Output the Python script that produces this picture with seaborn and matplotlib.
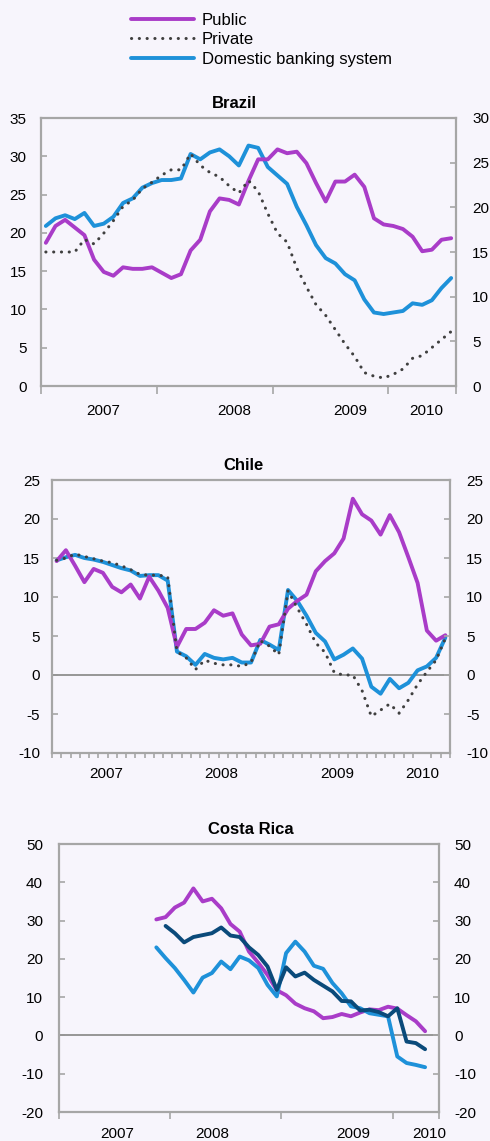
import matplotlib
matplotlib.use("Agg")
import matplotlib.pyplot as plt
import seaborn as sns
from matplotlib.lines import Line2D

# ---------------- data ----------------
years = ["2007", "2008", "2009", "2010"]
legend_labels = ["Public", "Private", "Domestic banking system"]

# Brazil (43 monthly observations)
brazil_public = [18.7, 20.9, 21.7, 20.7, 19.7, 16.5, 14.9, 14.4, 15.5, 15.3, 15.3, 15.5, 14.8, 14.1, 14.6,
                 17.7, 19.1, 22.8, 24.5, 24.3, 23.7, 26.8, 29.6, 29.6, 30.9, 30.4, 30.6, 29.1, 26.5, 24.1,
                 26.7, 26.7, 27.6, 26.0, 21.9, 21.1, 20.9, 20.5, 19.5, 17.6, 17.8, 19.1, 19.3]
brazil_domestic = [20.9, 21.9, 22.3, 21.8, 22.6, 20.9, 21.2, 22.1, 23.9, 24.5, 25.9, 26.5, 26.9, 26.9, 27.1,
                   30.3, 29.6, 30.5, 30.9, 30.0, 28.8, 31.4, 31.1, 28.6, 27.5, 26.4, 23.4, 21.0, 18.4, 16.7,
                   16.0, 14.6, 13.8, 11.3, 9.6, 9.4, 9.6, 9.8, 10.8, 10.6, 11.2, 12.8, 14.1]
# private sector is read on the right-hand axis (0-30)
brazil_private = [15.0, 15.0, 15.0, 15.0, 16.4, 15.9, 17.1, 18.5, 20.1, 20.8, 22.1, 22.8, 23.6, 24.2, 24.2,
                  26.0, 24.7, 23.9, 23.4, 22.4, 21.6, 23.0, 21.8, 19.3, 17.1, 16.1, 13.2, 11.1, 9.1, 7.9,
                  6.3, 4.7, 3.3, 1.5, 1.1, 0.9, 1.3, 1.9, 3.1, 3.4, 4.3, 5.2, 6.1]

# Chile (43 monthly observations)
chile_public = [14.6, 16.0, 14.0, 11.9, 13.6, 13.1, 11.3, 10.6, 11.6, 9.8, 12.6, 10.8, 8.6, 3.6, 5.9,
                5.9, 6.7, 8.3, 7.6, 7.9, 5.2, 3.8, 4.0, 6.2, 6.5, 8.5, 9.5, 10.3, 13.3, 14.6,
                15.6, 17.5, 22.6, 20.6, 19.8, 18.0, 20.5, 18.3, 15.1, 11.8, 5.7, 4.4, 5.1]
chile_domestic = [14.7, 15.1, 15.4, 15.0, 14.8, 14.5, 14.1, 13.7, 13.4, 12.7, 12.8, 12.8, 12.1, 3.0, 2.4,
                  1.3, 2.7, 2.2, 2.0, 2.2, 1.6, 1.6, 4.5, 3.9, 3.2, 10.9, 9.5, 7.6, 5.4, 4.3,
                  2.0, 2.6, 3.4, 2.1, -1.5, -2.4, -0.5, -1.7, -1.0, 0.6, 1.1, 2.2, 4.8]
chile_private = [14.7, 15.0, 15.5, 15.2, 14.9, 14.6, 14.4, 14.0, 13.5, 12.9, 12.8, 12.8, 12.6, 3.0, 2.2,
                 0.7, 1.9, 1.5, 1.3, 1.3, 1.1, 1.6, 4.4, 3.7, 2.6, 10.8, 8.6, 6.5, 4.1, 2.9,
                 0.3, 0.0, 0.0, -2.0, -5.3, -4.5, -3.7, -4.9, -3.2, -1.2, 0.4, 1.9, 4.7]

# Costa Rica (41 monthly slots, data from slot 10 / 11 to 39)
cr_start = 10
cr_public = [30.3, 30.9, 33.4, 34.7, 38.4, 35.0, 35.7, 33.2, 29.1, 27.1, 21.9, 19.0, 15.8, 11.8, 10.5,
             8.3, 7.1, 6.3, 4.5, 4.8, 5.6, 5.0, 6.0, 6.8, 6.6, 7.5, 7.0, 5.3, 3.7, 1.1]
cr_domestic = [23.0, 20.2, 17.6, 14.5, 11.2, 15.1, 16.3, 19.3, 17.3, 20.6, 19.6, 17.6, 13.2, 10.2, 21.5,
               24.5, 21.9, 18.2, 17.4, 13.7, 11.0, 7.6, 7.1, 5.8, 5.4, 5.0, -5.5, -7.2, -7.7, -8.3]
cr_other_start = 11
cr_other = [28.6, 26.7, 24.3, 25.7, 26.2, 26.7, 28.2, 26.1, 25.7, 23.0, 21.0, 18.0, 11.9, 17.8, 15.4,
            16.4, 14.5, 13.0, 11.5, 9.0, 8.9, 6.5, 6.7, 6.1, 5.0, 7.1, -1.6, -2.0, -3.6]

# ---------------- style ----------------
sns.set_theme(style="white")
plt.rcParams["font.family"] = ["Liberation Sans", "DejaVu Sans"]
plt.rcParams["axes.unicode_minus"] = False
plt.rcParams["text.color"] = "black"
plt.rcParams["xtick.color"] = "black"
plt.rcParams["ytick.color"] = "black"
BG = "#F7F5FC"
PURPLE = "#A93CC8"
BLUE = "#1E91D9"
NAVY = "#0A4A7A"
DOT = "#3F3F3F"
SPINE = "#A6A6A6"
ZERO = "#969696"
LW = 2.8
DOTSTYLE = dict(linestyle=(0, (0.05, 2.5)), dash_capstyle="round", linewidth=2.2)

W, H = 490, 1141
fig = plt.figure(figsize=(W / 100, H / 100), dpi=100, facecolor=BG)


def make_axes(l, t, r, b):
    ax = fig.add_axes([l / W, 1 - b / H, (r - l) / W, (b - t) / H])
    ax.set_facecolor(BG)
    for s in ax.spines.values():
        s.set_color(SPINE)
        s.set_linewidth(1.6)
    return ax


def style_panel(ax, box, ylim, ystep, ncat, bounds, ticklen, label_pos, label_pad,
                lpad, rpad, title, title_xy, ylim_r=None):
    l, t, r, b = box
    ax.set_xlim(-0.5, ncat - 0.5)
    ax.set_ylim(*ylim)
    ax.set_yticks(range(ylim[0], ylim[1] + 1, ystep))
    ax.tick_params(axis="y", direction="in", length=4, width=1.2, color=SPINE,
                   labelcolor="black", labelsize=11, pad=lpad, left=True, right=False)
    # year labels (major, no tick mark) and boundary ticks (minor)
    ax.set_xticks(label_pos, labels=years)
    ax.set_xticks(bounds, minor=True)
    ax.tick_params(axis="x", which="major", length=0, labelsize=11, labelcolor="black",
                   pad=label_pad)
    ax.tick_params(axis="x", which="minor", direction="out", length=ticklen, width=1.2,
                   color=SPINE, bottom=True)
    ax.set_xlabel("")
    ax.set_ylabel("")
    tw = ax.twinx()
    yr = ylim_r if ylim_r is not None else ylim
    tw.set_ylim(*yr)
    tw.set_yticks(range(yr[0], yr[1] + 1, ystep))
    tw.tick_params(axis="y", direction="in", length=4, width=1.2, color=SPINE,
                   labelcolor="black", labelsize=11, pad=rpad)
    for s in tw.spines.values():
        s.set_visible(False)
    tw.set_ylabel("")
    # title
    tx = (title_xy[0] - l) / (r - l)
    ty = 1 + (t - title_xy[1]) / (b - t)
    ax.text(tx, ty, title, transform=ax.transAxes, ha="center", va="center",
            fontsize=12, fontweight="bold", color="black")
    return tw


# ---------------- Brazil ----------------
box = (41, 118, 456, 386)
ax1 = make_axes(*box)
xb = list(range(len(brazil_public)))
sns.lineplot(x=xb, y=brazil_domestic, ax=ax1, color=BLUE, linewidth=LW)
sns.lineplot(x=xb, y=brazil_public, ax=ax1, color=PURPLE, linewidth=LW)
tw1 = style_panel(ax1, box, (0, 35), 5, 43, [-0.5, 11.5, 23.5, 35.5, 42.5], 6,
                  [5.9, 19.5, 31.5, 39.4], 13, 10.5, 11.5, "Brazil", (234, 103), ylim_r=(0, 30))
sns.lineplot(x=xb, y=brazil_private, ax=tw1, color=DOT, **DOTSTYLE)
tw1.set_ylabel("")

# ---------------- Chile ----------------
box = (52, 480, 450, 753)
ax2 = make_axes(*box)
ax2.axhline(0, color=ZERO, linewidth=1.4, zorder=1)
xc = list(range(len(chile_public)))
sns.lineplot(x=xc, y=chile_domestic, ax=ax2, color=BLUE, linewidth=LW)
sns.lineplot(x=xc, y=chile_public, ax=ax2, color=PURPLE, linewidth=LW)
sns.lineplot(x=xc, y=chile_private, ax=ax2, color=DOT, **DOTSTYLE)
style_panel(ax2, box, (-10, 25), 5, 43, [i - 0.5 for i in range(44)], 3.5,
            [5.4, 17.75, 30.3, 39.5], 9.8, 8.5, 11.5, "Chile", (243, 465.5))

# ---------------- Costa Rica ----------------
box = (59, 844, 439, 1112)
ax3 = make_axes(*box)
ax3.axhline(0, color=ZERO, linewidth=1.4, zorder=1)
x_cr = list(range(cr_start, cr_start + len(cr_public)))
x_cro = list(range(cr_other_start, cr_other_start + len(cr_other)))
sns.lineplot(x=x_cr, y=cr_public, ax=ax3, color=PURPLE, linewidth=LW)
sns.lineplot(x=x_cr, y=cr_domestic, ax=ax3, color=BLUE, linewidth=LW)
sns.lineplot(x=x_cro, y=cr_other, ax=ax3, color=NAVY, linewidth=LW)
style_panel(ax3, box, (-20, 50), 10, 41, [-0.5, 11.5, 23.5, 35.5, 40.5], 5,
            [5.8, 16, 31.2, 39.5], 10.5, 11.5, 10.8, "Costa Rica", (251, 829))

# ---------------- legend ----------------
handles = [Line2D([], [], color=PURPLE, linewidth=LW),
           Line2D([], [], color=DOT, **DOTSTYLE),
           Line2D([], [], color=BLUE, linewidth=LW)]
fig.legend(handles, legend_labels, loc="upper left", bbox_to_anchor=(131 / W, 1 - 13 / H),
           frameon=False, fontsize=12, handlelength=3.75, handletextpad=0.48,
           labelspacing=0.26, borderpad=0, borderaxespad=0, labelcolor="black")

fig.savefig("out.png", dpi=100, facecolor=BG)
